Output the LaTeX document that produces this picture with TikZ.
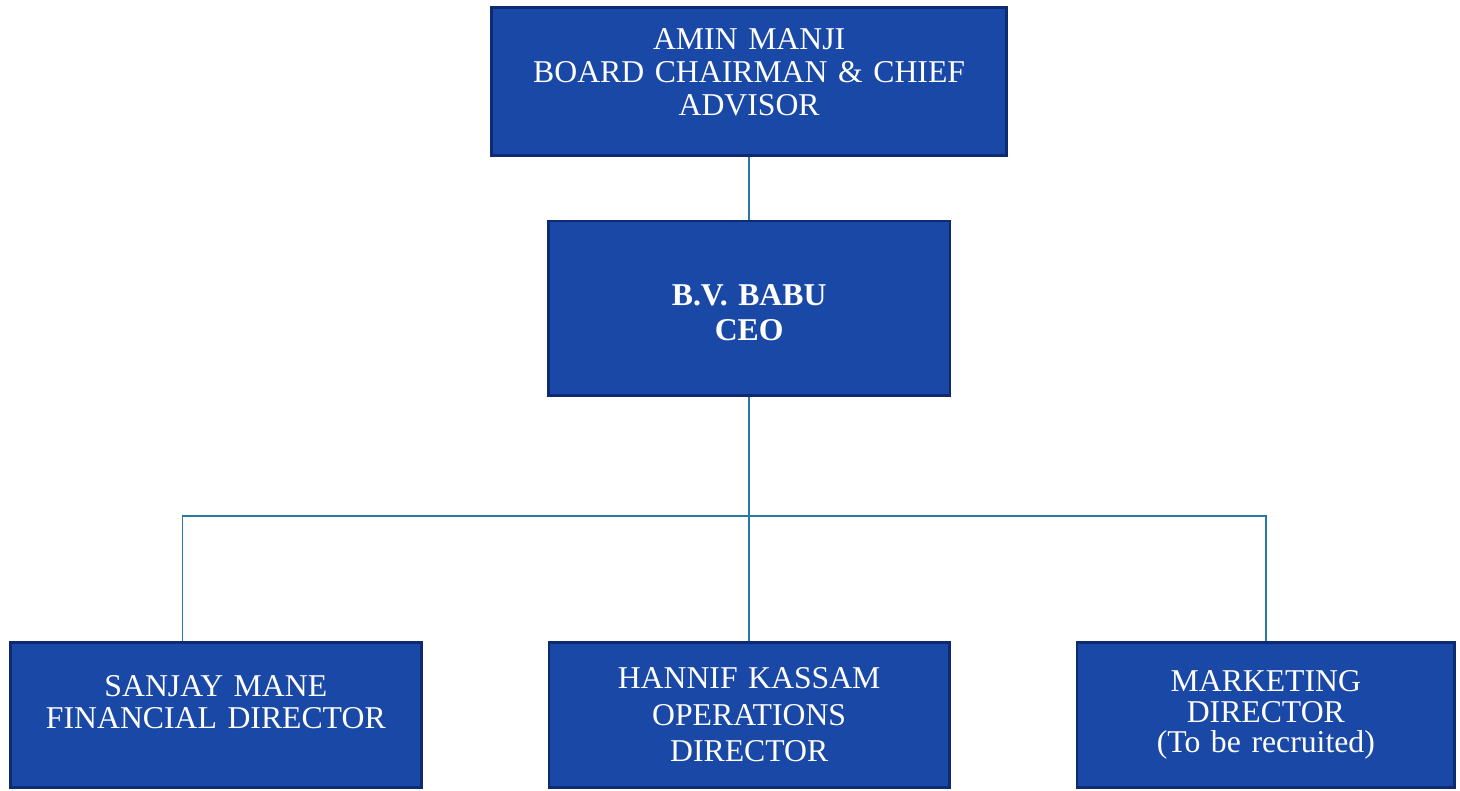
\documentclass[tikz,border=0pt]{standalone}
\usepackage{fontspec}
\setmainfont{Liberation Serif}
\usetikzlibrary{shapes,arrows}

\definecolor{boxblue}{RGB}{26,72,166}
\definecolor{boxedge}{RGB}{14,42,112}
\definecolor{linkblue}{RGB}{40,120,165}

\begin{document}
\begin{tikzpicture}[x=0.75pt, y=-0.75pt,
      block_top/.style ={rectangle, draw=boxedge, line width=2pt, fill=boxblue,
        text=white, text width=382pt, text centered, text depth=64.5pt,
        minimum height=111pt, inner sep=2pt, font=\fontsize{23.8}{25}\selectfont},
      block_ceo/.style ={rectangle, draw=boxedge, line width=2pt, fill=boxblue,
        text=white, text width=297pt, text centered, text height=22.5pt,
        minimum height=131pt, inner sep=2pt, font=\fontsize{23.8}{26}\selectfont\bfseries},
      block_center/.style ={rectangle, draw=boxedge, line width=2pt, fill=boxblue,
        text=white, text width=#1, text centered,
        minimum height=109pt, inner sep=2pt, font=\fontsize{23.8}{27.5}\selectfont},
      line/.style ={draw=linkblue, line width=1.2pt}]
    %
    \useasboundingbox (0,0) rectangle (1460,790);
    %
    % 1. the chart as a matrix of boxes
    \matrix [anchor=north, inner sep=0pt, column sep=51pt, row sep=47pt] at (732.5,6) {
      % board - row 1
      & \node [block_top] (chair) {AMIN MANJI\\BOARD CHAIRMAN \& CHIEF\\ADVISOR};
      & \\
      % ceo - row 2
      & \node [block_ceo] (ceo) {B.V. BABU\\CEO};
      & \\[136pt]
      % directors - row 3
      \node [block_center=304pt, text depth=42.7pt,
        font=\fontsize{23.8}{24}\selectfont] (fin) {SANJAY MANE\\FINANCIAL DIRECTOR};
      & \node [block_center=296pt] (ops) {HANNIF KASSAM\\OPERATIONS\\DIRECTOR};
      & \node [block_center=279pt,
        font=\fontsize{23.8}{23}\selectfont] (mkt) {MARKETING\\DIRECTOR\\(To be recruited)}; \\
    };% end matrix
    %
    \coordinate (bus) at (ceo.south |- 0,516);
    %
    % 2. connecting boxes
    \begin{scope}[every path/.style=line]
      \path (chair) -- (ceo);
      \path (ceo) -- (bus);
      \path (bus) -- (ops);
      \path ([xshift=-25pt]fin.north) |- (bus) -| (mkt.north);
    \end{scope}
  \end{tikzpicture}
\end{document}
